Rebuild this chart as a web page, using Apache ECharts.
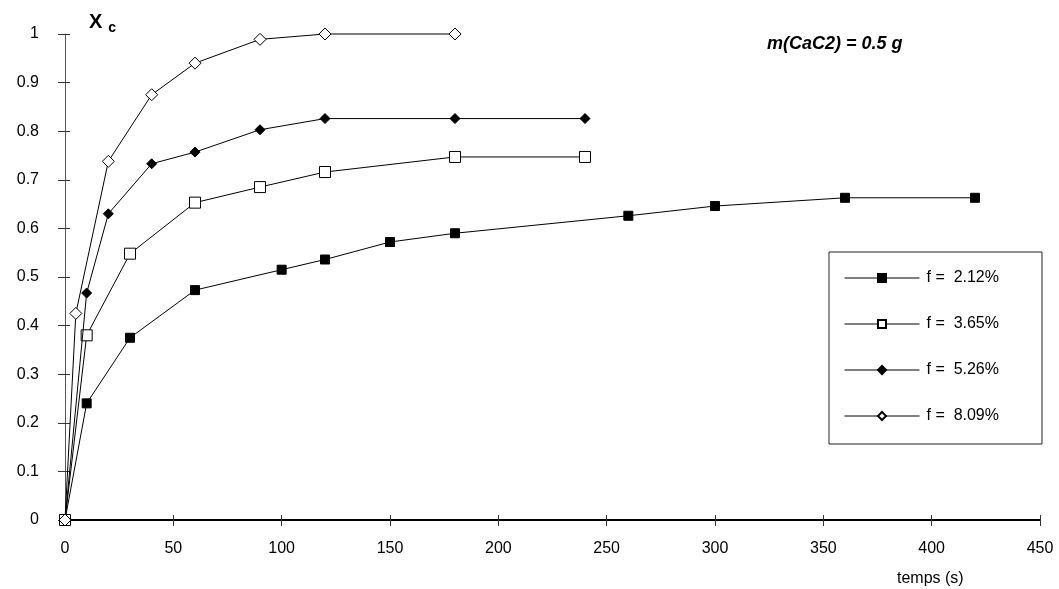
<!DOCTYPE html>
<html><head><meta charset="utf-8">
<script src="https://cdn.jsdelivr.net/npm/echarts@6/dist/echarts.min.js"></script>
<style>html,body{margin:0;padding:0;background:#fff}#c{width:1059px;height:589px}</style>
</head><body><div id="c"></div>
<script>
const seriesNames = ['f =  2.12%', 'f =  3.65%', 'f =  5.26%', 'f =  8.09%'];
const t212 = [0, 10, 30, 60, 100, 120, 150, 180, 260, 300, 360, 420];
const x212 = [0, 0.24, 0.375, 0.473, 0.515, 0.536, 0.572, 0.59, 0.626, 0.646, 0.663, 0.663];
const t365 = [0, 10, 30, 60, 90, 120, 180, 240];
const x365 = [0, 0.38, 0.548, 0.653, 0.685, 0.716, 0.747, 0.747];
const t526 = [0, 10, 20, 40, 60, 90, 120, 180, 240];
const x526 = [0, 0.467, 0.63, 0.733, 0.757, 0.803, 0.826, 0.826, 0.826];
const t809 = [0, 5, 20, 40, 60, 90, 120, 180];
const x809 = [0, 0.425, 0.738, 0.875, 0.94, 0.989, 1.0, 1.0];
const xTicks = [0, 450, 50];
const yTicks = [0, 1, 0.1];

const pair = (t, x) => t.map((v, i) => [v, x[i]]);
const font = 'Liberation Sans, Arial, sans-serif';
const styles = [
  {symbol: 'rect', size: 9, fill: '#000'},
  {symbol: 'rect', size: 11, fill: '#fff'},
  {symbol: 'diamond', size: 10, fill: '#000'},
  {symbol: 'diamond', size: 12, fill: '#fff'}
];
const datas = [pair(t212, x212), pair(t365, x365), pair(t526, x526), pair(t809, x809)];

const chart = echarts.init(document.getElementById('c'));
const axisLabelStyle = {color: '#000', fontFamily: font, fontSize: 16};
chart.setOption({
  animation: false,
  backgroundColor: '#fff',
  grid: {left: 65, right: 19, top: 34, bottom: 69, containLabel: false},
  xAxis: [{
    type: 'value', min: xTicks[0], max: xTicks[1], interval: xTicks[2],
    axisLine: {show: true, onZero: false, lineStyle: {color: '#000', width: 2}},
    axisTick: {show: true, length: 6, lineStyle: {color: '#333'}},
    axisLabel: Object.assign({margin: 21}, axisLabelStyle),
    splitLine: {show: false}
  }, {
    type: 'value', min: xTicks[0], max: xTicks[1], interval: xTicks[2], position: 'bottom',
    axisLine: {show: false}, axisTick: {show: true, inside: true, length: 5, lineStyle: {color: '#333'}},
    axisLabel: {show: false}, splitLine: {show: false}
  }],
  yAxis: [{
    type: 'value', min: yTicks[0], max: yTicks[1], interval: yTicks[2],
    axisLine: {show: true, onZero: false, lineStyle: {color: '#555', width: 1}},
    axisTick: {show: true, length: 7, lineStyle: {color: '#333'}},
    axisLabel: Object.assign({margin: 26, formatter: v => String(Math.round(v * 10) / 10)}, axisLabelStyle),
    splitLine: {show: false}
  }, {
    type: 'value', min: yTicks[0], max: yTicks[1], interval: yTicks[2], position: 'left',
    axisLine: {show: false}, axisTick: {show: true, inside: true, length: 5, lineStyle: {color: '#333'}},
    axisLabel: {show: false}, splitLine: {show: false}
  }],
  legend: {
    orient: 'vertical', left: 829, top: 252,
    padding: [18, 43, 20, 15], itemGap: 30, itemWidth: 75, itemHeight: 10,
    borderColor: '#222', borderWidth: 1, backgroundColor: '#fff',
    lineStyle: {width: 1},
    textStyle: {color: '#000', fontFamily: font, fontSize: 16, padding: [0, 0, 0, 2]},
    data: seriesNames
  },
  series: datas.map((d, i) => ({
    name: seriesNames[i], type: 'line', data: d, clip: false,
    symbol: styles[i].symbol, symbolSize: styles[i].size, showAllSymbol: true,
    lineStyle: {color: '#000', width: 1},
    itemStyle: {color: styles[i].fill, borderColor: '#000', borderWidth: 1},
    z: 2 + i
  })),
  graphic: [
    {type: 'text', left: 89, top: 12, style: {
      text: '{x|X}{c| c}', fill: '#000',
      rich: {x: {fontSize: 20, fontWeight: 'bold', fontFamily: font}, c: {fontSize: 14, fontWeight: 'bold', fontFamily: font, padding: [12, 0, 0, 2]}}
    }},
    {type: 'text', left: 767, top: 35, style: {
      text: 'm(CaC2) = 0.5 g', fill: '#000', fontFamily: font, fontSize: 18, fontWeight: 'bold', fontStyle: 'italic'
    }},
    {type: 'text', left: 897, top: 571, style: {
      text: 'temps (s)', fill: '#000', fontFamily: font, fontSize: 16
    }}
  ]
});
</script></body></html>
